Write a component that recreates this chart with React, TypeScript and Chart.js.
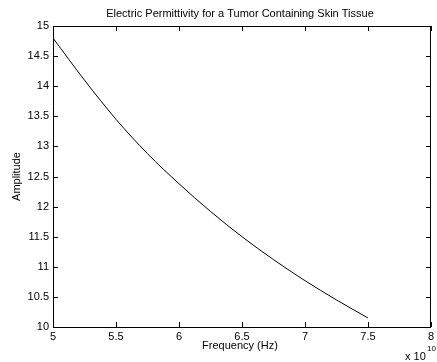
import React, { useEffect, useRef } from "react";
import { Chart, registerables } from "chart.js";

Chart.register(...registerables);

// Frequency in units of 1e10 Hz
const frequency = [5.0, 5.25, 5.5, 5.75, 6.0, 6.25, 6.5, 6.75, 7.0, 7.25, 7.5];
const amplitude = [14.8, 14.1, 13.45, 12.88, 12.38, 11.92, 11.5, 11.12, 10.77, 10.45, 10.15];

const xTickLabels = ["5", "5.5", "6", "6.5", "7", "7.5", "8"];
const yTickLabels = ["10", "10.5", "11", "11.5", "12", "12.5", "13", "13.5", "14", "14.5", "15"];

const titleText = "Electric Permittivity for a Tumor Containing Skin Tissue";
const xTitle = "Frequency (Hz)";
const yTitle = "Amplitude";

const FONT = "'Liberation Sans', Arial, Helvetica, sans-serif";

const framePlugin = {
  id: "matlabFrame",
  afterDraw(chart: any) {
    const { ctx, chartArea, scales } = chart;
    const { left, right, top, bottom } = chartArea;
    ctx.save();
    ctx.strokeStyle = "#000";
    ctx.lineWidth = 1;
    ctx.beginPath();
    ctx.rect(Math.round(left) + 0.5, Math.round(top) + 0.5, Math.round(right - left) - 1, Math.round(bottom - top));
    ctx.stroke();
    const tl = 5;
    ctx.beginPath();
    scales.x.ticks.forEach((t: any) => {
      const px = Math.round(scales.x.getPixelForValue(t.value)) + 0.5;
      ctx.moveTo(px, bottom);
      ctx.lineTo(px, bottom - tl);
      ctx.moveTo(px, top);
      ctx.lineTo(px, top + tl);
    });
    scales.y.ticks.forEach((t: any) => {
      const py = Math.round(scales.y.getPixelForValue(t.value)) + 0.5;
      ctx.moveTo(left, py);
      ctx.lineTo(left + tl, py);
      ctx.moveTo(right, py);
      ctx.lineTo(right - tl, py);
    });
    ctx.stroke();

    ctx.fillStyle = "#000";
    ctx.textAlign = "center";
    ctx.textBaseline = "middle";
    ctx.font = `11px ${FONT}`;
    const cx = (left + right) / 2 - 2;
    ctx.fillText(titleText, cx, 14);
    ctx.fillText(xTitle, cx, 346);
    ctx.save();
    ctx.translate(17, (top + bottom) / 2);
    ctx.rotate(-Math.PI / 2);
    ctx.fillText(yTitle, 0, 0);
    ctx.restore();
    ctx.textAlign = "left";
    ctx.fillText("x 10", 405, 357);
    ctx.font = `8px ${FONT}`;
    ctx.fillText("10", 427, 349);
    ctx.restore();
  },
};

export default function App() {
  const ref = useRef<HTMLCanvasElement>(null);
  useEffect(() => {
    if (!ref.current) return;
    const chart = new Chart(ref.current, {
      type: "line",
      data: {
        datasets: [
          {
            data: frequency.map((f, i) => ({ x: f, y: amplitude[i] })),
            borderColor: "#000",
            borderWidth: 1,
            pointRadius: 0,
            cubicInterpolationMode: "monotone",
            fill: false,
          },
        ],
      },
      options: {
        responsive: false,
        animation: false,
        layout: { padding: { top: 26, right: 1, left: 0, bottom: 0 }, autoPadding: false },
        plugins: { legend: { display: false }, tooltip: { enabled: false }, title: { display: false } },
        scales: {
          x: {
            type: "linear",
            min: 5,
            max: 8,
            grid: { display: false, drawTicks: false },
            border: { display: false },
            ticks: {
              stepSize: 0.5,
              autoSkip: false,
              maxRotation: 0,
              padding: 3,
              color: "#000",
              font: { family: FONT, size: 11 },
              callback: (_v: any, i: number) => xTickLabels[i],
            },
            afterFit: (s: any) => {
              s.height = 35;
            },
          },
          y: {
            type: "linear",
            min: 10,
            max: 15,
            grid: { display: false, drawTicks: false },
            border: { display: false },
            ticks: {
              stepSize: 0.5,
              autoSkip: false,
              padding: 4,
              color: "#000",
              font: { family: FONT, size: 11 },
              callback: (_v: any, i: number) => yTickLabels[i],
            },
            afterFit: (s: any) => {
              s.width = 53;
            },
          },
        },
      },
      plugins: [framePlugin],
    });
    return () => chart.destroy();
  }, []);
  return (
    <div style={{ position: "absolute", left: 0, top: 0, width: 437, height: 362, background: "#fff" }}>
      <canvas ref={ref} width={437} height={362} style={{ display: "block" }} />
    </div>
  );
}
